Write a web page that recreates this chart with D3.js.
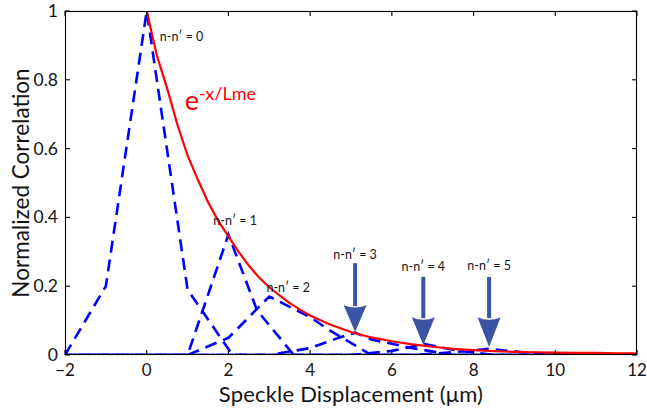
<!DOCTYPE html>
<html><head><meta charset="utf-8">
<script src="https://cdn.jsdelivr.net/npm/d3@7"></script>
<style>
html,body{margin:0;padding:0;background:#fff;}
svg{display:block;font-family:Lato,"Noto Sans",sans-serif;}
</style></head>
<body><svg id="c" width="647" height="408"></svg>
<script>
// ---- data ----
const xTicks = [-2,0,2,4,6,8,10,12];
const yTicks = [0,0.2,0.4,0.6,0.8,1];
const yTickLabels = ["0","0.2","0.4","0.6","0.8","1"];

// envelope e^{-x/Lme}
const redX = [0,0.25,0.5,0.75,1,1.25,1.5,1.75,2,2.25,2.5,2.75,3,3.25,3.5,3.75,4,4.5,5,5.5,6,6.5,7,7.5,8,8.5,9,9.5,10,10.5,11,11.5,12];
const redY = [1,0.87,0.775,0.67,0.58,0.51,0.445,0.39,0.345,0.30,0.26,0.225,0.197,0.173,0.151,0.132,0.115,0.088,0.067,0.051,0.04,0.031,0.024,0.018,0.014,0.011,0.009,0.008,0.007,0.006,0.006,0.005,0.005];

// correlation curves n-n' = 0..5
const n0X = [-2,-1,0,1,2.1,12];
const n0Y = [0,0.2,1,0.19,0,0];
const n1X = [-2,1,2,2.7,3.6,12];
const n1Y = [0,0,0.35,0.13,0,0];
const n2X = [-2,1,2,3,3.5,4,4.5,5.5,12];
const n2Y = [0,0,0.05,0.17,0.14,0.11,0.07,0,0];
const n3X = [-2,3,4,4.7,5.1,5.5,6.5,7.5,12];
const n3Y = [0,0,0.02,0.05,0.065,0.045,0.02,0,0];
const n4X = [-2,5,6,6.8,7.5,8.5,12];
const n4Y = [0,0,0.012,0.032,0.015,0,0];
const n5X = [-2,6.5,7.5,8.4,9.2,10.5,12];
const n5Y = [0,0,0.008,0.018,0.008,0,0];

const labelsLeft = ["n-n\u2032 = 0","n-n\u2032 = 1","n-n\u2032 = 2"];
const labelsLeftX = [0.32,1.63,2.93];
const labelsLeftY = [0.912,0.378,0.183];
const arrowLabels = ["n-n\u2032 = 3","n-n\u2032 = 4","n-n\u2032 = 5"];
const arrowX = [5.1,6.77,8.38];
const arrowTop = [0.267,0.227,0.227];
const arrowHead = [0.145,0.11,0.11];
const arrowTip = [0.067,0.029,0.023];
const arrowLabelY = [0.279,0.244,0.247];

// ---- drawing ----
const W=647,H=408, L=65,R=637,T=11,B=355;
const svg = d3.select("#c");
const x = d3.scaleLinear().domain([-2,12]).range([L,R]);
const y = d3.scaleLinear().domain([0,1]).range([B,T]);

svg.append("clipPath").attr("id","pc").append("rect")
  .attr("x",L).attr("y",T-2).attr("width",R-L).attr("height",B-T+2);

const line = d3.line().x(d=>x(d[0])).y(d=>y(d[1]));
const zip = (a,b)=>a.map((v,i)=>[v,b[i]]);

const blue = [[n0X,n0Y],[n1X,n1Y],[n2X,n2Y],[n3X,n3Y],[n4X,n4Y],[n5X,n5Y]];
const g = svg.append("g").attr("clip-path","url(#pc)");
blue.forEach(([bx,by],i)=>{
  g.append("path").attr("d",line(zip(bx,by)))
   .attr("fill","none").attr("stroke","#0000ff").attr("stroke-width",2.6)
   .attr("stroke-dasharray","12,7").attr("stroke-dashoffset",i*5);
});
g.append("path").attr("d",line(zip(redX,redY)))
  .attr("fill","none").attr("stroke","#ff0000").attr("stroke-width",2.2);

// axes box
const ax = svg.append("g").attr("stroke","#000").attr("stroke-width",1.1);
ax.append("rect").attr("x",L+0.5).attr("y",T+0.5).attr("width",R-L-1).attr("height",B-T-1).attr("fill","none");
xTicks.forEach(t=>{
  ax.append("line").attr("x1",x(t)).attr("x2",x(t)).attr("y1",B).attr("y2",B-5);
  ax.append("line").attr("x1",x(t)).attr("x2",x(t)).attr("y1",T).attr("y2",T+5);
});
yTicks.forEach(t=>{
  ax.append("line").attr("x1",L).attr("x2",L+5).attr("y1",y(t)).attr("y2",y(t));
  ax.append("line").attr("x1",R).attr("x2",R-5).attr("y1",y(t)).attr("y2",y(t));
});

const tc="#141414";
svg.append("g").selectAll("text").data(xTicks).join("text")
  .attr("x",d=>x(d)).attr("y",376).attr("text-anchor","middle")
  .attr("font-size",17).attr("fill",tc)
  .text(d=>d<0?"\u2212"+Math.abs(d):d);
svg.append("g").selectAll("text").data(yTicks).join("text")
  .attr("x",58).attr("y",d=>y(d)+6).attr("text-anchor","end")
  .attr("font-size",17.5).attr("fill",tc)
  .text((d,i)=>yTickLabels[i]);

svg.append("text").attr("x",(L+R)/2).attr("y",402).attr("text-anchor","middle")
  .attr("font-size",22).attr("letter-spacing",0.2).attr("fill",tc).text("Speckle Displacement (\u03bcm)");
svg.append("text").attr("transform",`translate(29,${(T+B)/2}) rotate(-90)`)
  .attr("text-anchor","middle").attr("font-size",22.5).attr("fill",tc)
  .text("Normalized Correlation");

// labels
labelsLeft.forEach((s,i)=>{
  svg.append("text").attr("x",x(labelsLeftX[i])).attr("y",y(labelsLeftY[i]))
    .attr("font-size",12.5).attr("fill",tc).text(s);
});
const ac="#3b55a4";
arrowLabels.forEach((s,i)=>{
  const cx=x(arrowX[i]);
  svg.append("text").attr("x",cx).attr("y",y(arrowLabelY[i])).attr("text-anchor","middle")
    .attr("font-size",12.5).attr("fill",tc).text(s);
  svg.append("rect").attr("x",cx-2).attr("y",y(arrowTop[i])).attr("width",4)
    .attr("height",y(arrowHead[i])-y(arrowTop[i])+1).attr("fill",ac);
  svg.append("path").attr("d",`M${cx-11.5},${y(arrowHead[i])} Q${cx},${y(arrowHead[i])+5} ${cx+11.5},${y(arrowHead[i])} L${cx},${y(arrowTip[i])} Z`)
    .attr("fill",ac);
});

// red formula label
const rl = svg.append("text").attr("x",x(0.93)).attr("y",y(0.712)).attr("fill","#ff0000");
rl.append("tspan").attr("font-size",27).text("e");
rl.append("tspan").attr("font-size",18).attr("dy",-10).text("-x/Lme");
</script></body></html>
